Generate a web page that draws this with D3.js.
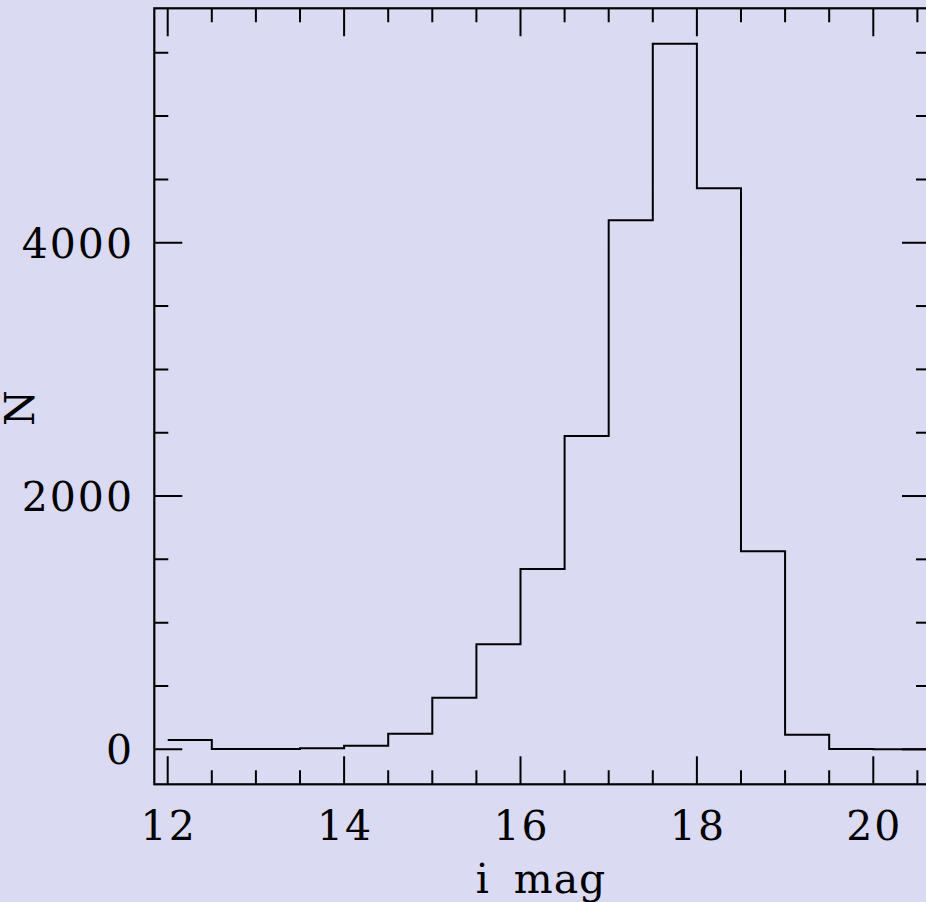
<!DOCTYPE html>
<html>
<head>
<meta charset="utf-8">
<script src="https://cdn.jsdelivr.net/npm/d3@7"></script>
<style>
  html, body { margin: 0; padding: 0; background: #dadaf2; }
  svg { display: block; }
  text { font-family: "DejaVu Serif", "Liberation Serif", serif; fill: #000; }
</style>
</head>
<body>
<svg id="chart" width="926" height="902"></svg>
<script>
// ---- data ----
const binStarts = [12.0, 12.5, 13.0, 13.5, 14.0, 14.5, 15.0, 15.5, 16.0, 16.5, 17.0, 17.5, 18.0, 18.5, 19.0, 19.5, 20.0, 20.5];
const binWidth = 0.5;
const counts    = [73, 2, 3, 9, 28, 123, 407, 829, 1424, 2474, 4177, 5571, 4430, 1564, 115, 3, 1, 0];
const xMajorTicks = [12, 14, 16, 18, 20];
const yMajorTicks = [0, 2000, 4000];
const xLabel = "i mag";
const yLabel = "N";

// ---- layout ----
const svg = d3.select("#chart");
const pL = 154.3, pR = 930, pT = 8.3, pB = 784.3;
const x = d3.scaleLinear().domain([11.848, 20.643]).range([pL, pR]);
const y = d3.scaleLinear().domain([-276, 5851]).range([pB, pT]);

svg.append("rect").attr("width", 926).attr("height", 902).attr("fill", "#dadaf2");

svg.append("defs").append("clipPath").attr("id", "plotclip")
  .append("rect").attr("x", pL).attr("y", pT).attr("width", pR - pL).attr("height", pB - pT);

// histogram
const pts = binStarts.map((b, i) => [b, counts[i]]);
pts.push([binStarts[binStarts.length - 1] + binWidth, counts[counts.length - 1]]);
const line = d3.line().x(d => x(d[0])).y(d => y(d[1])).curve(d3.curveStepAfter);
svg.append("path").attr("d", line(pts)).attr("fill", "none")
  .attr("stroke", "#000").attr("stroke-width", 2).attr("clip-path", "url(#plotclip)");

// ticks
const g = svg.append("g").attr("stroke", "#000").attr("stroke-width", 2).attr("clip-path", "url(#plotclip)");
const xMinor = d3.range(12, 20.6, 0.5);
xMinor.forEach(v => {
  const major = xMajorTicks.includes(Math.round(v * 10) / 10);
  const len = major ? 28 : 14;
  g.append("line").attr("x1", x(v)).attr("x2", x(v)).attr("y1", pB).attr("y2", pB - len);
  g.append("line").attr("x1", x(v)).attr("x2", x(v)).attr("y1", pT).attr("y2", pT + len);
});
const yMinor = d3.range(0, 5600, 500);
yMinor.forEach(v => {
  const major = yMajorTicks.includes(v);
  const len = major ? 28 : 14;
  g.append("line").attr("y1", y(v)).attr("y2", y(v)).attr("x1", pL).attr("x2", pL + len);
  g.append("line").attr("y1", y(v)).attr("y2", y(v)).attr("x1", pR).attr("x2", pR - len);
});

// frame
svg.append("rect").attr("x", pL).attr("y", pT).attr("width", pR - pL).attr("height", pB - pT)
  .attr("fill", "none").attr("stroke", "#000").attr("stroke-width", 2.2);

// tick labels
const fs = 41;
xMajorTicks.forEach(v => {
  svg.append("text").attr("x", x(v) + 1).attr("y", 840).attr("text-anchor", "middle")
    .attr("font-size", fs).attr("letter-spacing", 2).text(v);
});
yMajorTicks.forEach(v => {
  svg.append("text").attr("x", 134).attr("y", y(v) + 15).attr("text-anchor", "end")
    .attr("font-size", fs).attr("letter-spacing", 2).text(v);
});

// axis labels
svg.append("text").attr("x", 541).attr("y", 893).attr("text-anchor", "middle")
  .attr("font-size", fs).attr("word-spacing", 10).attr("letter-spacing", 1).text(xLabel);
svg.append("text").attr("transform", "translate(34,408) rotate(-90)").attr("text-anchor", "middle")
  .attr("font-size", fs).text(yLabel);
</script>
</body>
</html>
